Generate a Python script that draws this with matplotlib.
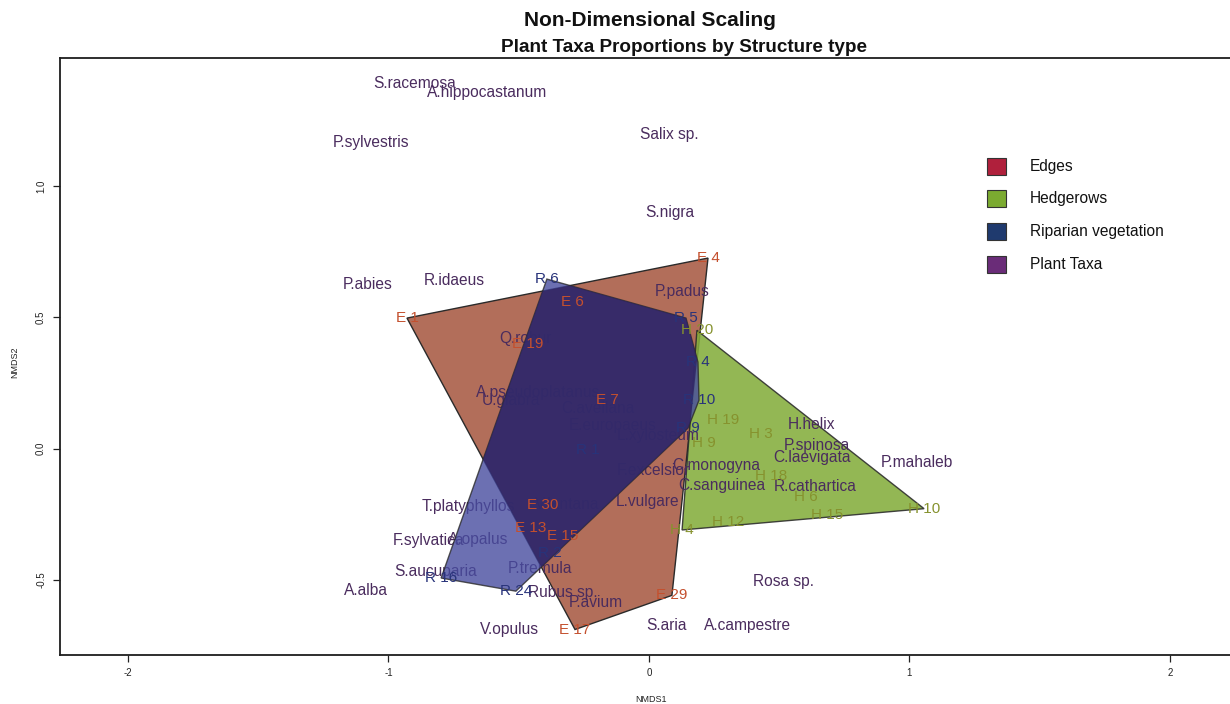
import numpy as np
import matplotlib
matplotlib.use("Agg")
import matplotlib.pyplot as plt
from matplotlib.patches import Polygon, Rectangle

plt.rcParams['font.family'] = ['Liberation Sans', 'DejaVu Sans']

# ---- NMDS scores: plant taxa ----
taxa = ["S.racemosa", "A.hippocastanum", "P.sylvestris", "Salix sp.", "S.nigra",
        "P.abies", "R.idaeus", "P.padus", "Q.robur", "A.pseudoplatanus", "U.glabra",
        "C.avellana", "E.europaeus", "L.xylosteum", "F.excelsior", "C.monogyna",
        "C.sanguinea", "C.laevigata", "P.spinosa", "H.helix", "P.mahaleb",
        "R.cathartica", "L.vulgare", "V.lantana", "T.platyphyllos", "F.sylvatica",
        "A.opalus", "S.aucuparia", "P.tremula", "A.alba", "Rubus sp.", "P.avium",
        "V.opulus", "S.aria", "A.campestre", "Rosa sp."]
taxa_x = [-0.898, -0.622, -1.067, 0.077, 0.081,
          -1.079, -0.749, 0.127, -0.476, -0.426, -0.530,
          -0.196, -0.138, 0.035, 0.015, 0.257,
          0.280, 0.626, 0.645, 0.622, 1.029,
          0.637, -0.004, -0.315, -0.695, -0.848,
          -0.656, -0.818, -0.418, -1.086, -0.330, -0.203,
          -0.537, 0.069, 0.380, 0.518]
taxa_y = [1.392, 1.357, 1.167, 1.198, 0.901,
          0.627, 0.642, 0.600, 0.421, 0.216, 0.185,
          0.155, 0.090, 0.052, -0.081, -0.062,
          -0.138, -0.035, 0.014, 0.094, -0.051,
          -0.142, -0.199, -0.214, -0.218, -0.351,
          -0.347, -0.469, -0.454, -0.538, -0.546, -0.584,
          -0.687, -0.671, -0.671, -0.507]

# ---- NMDS scores: sites by structure type ----
edge_sites = ["E 1", "E 4", "E 6", "E 19", "E 7", "E 30", "E 13", "E 15", "E 29", "E 17"]
edge_x = [-0.929, 0.2265, -0.292, -0.465, -0.161, -0.407, -0.453, -0.330, 0.088, -0.284]
edge_y = [0.4975, 0.726, 0.558, 0.398, 0.185, -0.214, -0.302, -0.332, -0.558, -0.688]

hedge_sites = ["H 20", "H 10", "H 4", "H 19", "H 3", "H 9", "H 18", "H 6", "H 15", "H 12"]
hedge_x = [0.184, 1.056, 0.127, 0.284, 0.430, 0.211, 0.468, 0.603, 0.683, 0.303]
hedge_y = [0.451, -0.228, -0.309, 0.109, 0.056, 0.022, -0.104, -0.184, -0.252, -0.279]

rip_sites = ["R 6", "R 5", "R 4", "R 10", "R 9", "R 2", "R 24", "R 16", "R 1"]
rip_x = [-0.392, 0.142, 0.188, 0.192, 0.150, -0.380, -0.511, -0.798, -0.234]
rip_y = [0.646, 0.4975, 0.330, 0.185, 0.079, -0.397, -0.542, -0.492, -0.005]

legend_labels = ["Edges", "Hedgerows", "Riparian vegetation", "Plant Taxa"]
legend_colors = ["#B0203C", "#7BAA30", "#1F3A6E", "#6A2C78"]

x_ticks = [-2, -1, 0, 1, 2]
x_ticklabels = ["-2", "-1", "0", "1", "2"]
y_ticks = [-0.5, 0.0, 0.5, 1.0]
y_ticklabels = ["-0.5", "0.0", "0.5", "1.0"]


def convex_hull(xs, ys):
    pts = sorted(set(zip(xs, ys)))

    def cross(o, a, b):
        return (a[0] - o[0]) * (b[1] - o[1]) - (a[1] - o[1]) * (b[0] - o[0])

    lower, upper = [], []
    for p in pts:
        while len(lower) >= 2 and cross(lower[-2], lower[-1], p) <= 0:
            lower.pop()
        lower.append(p)
    for p in reversed(pts):
        while len(upper) >= 2 and cross(upper[-2], upper[-1], p) <= 0:
            upper.pop()
        upper.append(p)
    return np.array(lower[:-1] + upper[:-1])


W, H = 1230, 704
fig = plt.figure(figsize=(W / 100, H / 100), dpi=100)
fig.patch.set_facecolor("white")

xlim = (-2.261, 2.40)
ylim = (-0.785, 1.487)
ax = fig.add_axes([60 / W, 49 / H, (xlim[1] - xlim[0]) * 260.5 / W,
                   (ylim[1] - ylim[0]) * 262.7 / H])
ax.set_xlim(*xlim)
ax.set_ylim(*ylim)

outline = "#2a2a2a"

# hulls
edge_hull = Polygon(convex_hull(edge_x, edge_y), closed=True, facecolor="#B26E5A",
                    edgecolor=outline, lw=1.0, zorder=2)
ax.add_patch(edge_hull)
hedge_hull = Polygon(convex_hull(hedge_x, hedge_y), closed=True, facecolor="#84AD3C",
                     alpha=0.88, edgecolor=outline, lw=1.0, zorder=2.2)
ax.add_patch(hedge_hull)

# taxa names sit under the riparian hull
for name, x, y in zip(taxa, taxa_x, taxa_y):
    ax.text(x, y, name, ha="center", va="center", fontsize=11.2,
            color="#4A2C5E", zorder=3)

rip_pts = convex_hull(rip_x, rip_y)
rip_hull = Polygon(rip_pts, closed=True, facecolor="#474C9F", alpha=0.8,
                   edgecolor=outline, lw=1.0, zorder=4)
ax.add_patch(rip_hull)
rip_over_edges = Polygon(rip_pts, closed=True, facecolor="#2E2260", alpha=0.8,
                         edgecolor="none", zorder=4.1)
ax.add_patch(rip_over_edges)
rip_over_edges.set_clip_path(edge_hull)

for name, x, y in zip(edge_sites, edge_x, edge_y):
    ax.text(x, y, name, ha="center", va="center", fontsize=11,
            color="#C4502E", zorder=5)
for name, x, y in zip(hedge_sites, hedge_x, hedge_y):
    ax.text(x, y, name, ha="center", va="center", fontsize=11,
            color="#86922E", zorder=5)
for name, x, y in zip(rip_sites, rip_x, rip_y):
    ax.text(x, y, name, ha="center", va="center", fontsize=11,
            color="#28337A", zorder=5)

# axes styling
for side in ("left", "bottom", "top", "right"):
    ax.spines[side].set_color("#1e1e1e")
    ax.spines[side].set_linewidth(1.3)
ax.set_xticks(x_ticks)
ax.set_xticklabels(x_ticklabels)
ax.set_yticks(y_ticks)
ax.set_yticklabels(y_ticklabels, rotation=90, va="center")
ax.tick_params(direction="out", length=5, width=0.9, labelsize=7,
               color="#222222", labelcolor="#222222")
ax.tick_params(axis="x", pad=4)
ax.tick_params(axis="y", pad=5)

fig.text(651 / W, 1 - 700 / H, "NMDS1", ha="center", va="center", fontsize=6.5,
         color="#222222")
fig.text(15 / W, 1 - 362 / H, "NMDS2", ha="center", va="center", fontsize=6.5,
         rotation=90, color="#222222")

fig.text(650 / W, 1 - 20 / H, "Non-Dimensional Scaling", ha="center", va="center",
         fontsize=15, fontweight="bold", color="#111111")
fig.text(684 / W, 1 - 47 / H, "Plant Taxa Proportions by Structure type",
         ha="center", va="center", fontsize=13.6, fontweight="bold", color="#111111")

# legend
for i, (lab, col) in enumerate(zip(legend_labels, legend_colors)):
    yc = 166 + 32.7 * i
    fig.add_artist(Rectangle((987 / W, 1 - (yc + 8.5) / H), 19 / W, 17 / H,
                             transform=fig.transFigure, facecolor=col,
                             edgecolor="#333333", lw=0.8))
    fig.text(1030 / W, 1 - yc / H, lab, ha="left", va="center", fontsize=11.2,
             color="#111111")

fig.savefig("out.png", dpi=100)
